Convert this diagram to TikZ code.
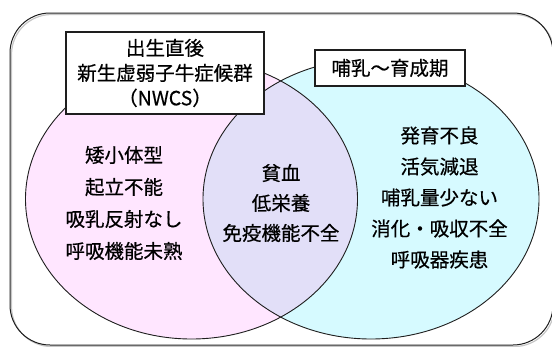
\documentclass[tikz,border=0pt]{standalone}
\usepackage{fontspec}
\setmainfont{Noto Sans CJK JP}[FakeBold=0.5]
\definecolor{pinkfill}{RGB}{255, 230, 255}
\definecolor{cyanfill}{RGB}{214, 250, 255}
\definecolor{lavender}{RGB}{226, 223, 248}
\definecolor{edge}{RGB}{30, 30, 30}

\begin{document}
\begin{tikzpicture}[x=1pt,y=-1pt,
        textgroup/.style={align=center, font=\fontsize{19.5}{31}\selectfont},
        labelbox/.style={draw=edge, line width=1.2pt, fill=white, align=center, inner sep=0pt,
          font=\fontsize{19.5}{25}\selectfont}]
        \useasboundingbox (0,0) rectangle (552,346);
        %\draw[gray!40, line width=1.5pt, rounded corners=40pt] (12,15) rectangle (555,347);
        \draw[gray!45, line width=1.2pt, rounded corners=40pt] (11.5,14.5) rectangle (554.5,346.5);
        \draw[edge, line width=1pt, rounded corners=40pt] (10,13) rectangle (553,345);

        \coordinate (early) at (191.5,199);
        \coordinate (later) at (371,199);
        \fill [pinkfill] (early) ellipse [x radius=166pt, y radius=140pt];
        \fill [cyanfill] (later) ellipse [x radius=168pt, y radius=140pt];
        \begin{scope}
          \clip (early) ellipse [x radius=166pt, y radius=140pt];
          \fill [lavender] (later) ellipse [x radius=168pt, y radius=140pt];
        \end{scope}
        \draw [edge, line width=0.9pt] (early) ellipse [x radius=166pt, y radius=140pt];
        \draw [edge, line width=0.9pt] (later) ellipse [x radius=168pt, y radius=140pt];

        \node[labelbox, minimum width=198pt, minimum height=82pt] (nwcs) at (165,73)
        {出生直後\\新生虚弱子牛症候群\\（NWCS）};
        \node[labelbox, minimum width=150pt, minimum height=36pt] (rearing) at (390,68)
        {哺乳〜育成期};

        \node[textgroup, font=\fontsize{19.5}{32}\selectfont] (newborn) at (124,203)
        {矮小体型\\起立不能\\吸乳反射なし\\呼吸機能未熟};
        \node[textgroup, font=\fontsize{19.5}{30}\selectfont] (common) at (281,203)
        {貧血\\低栄養\\免疫機能不全};
        \node[textgroup] (growth) at (439.5,197.5)
        {発育不良\\活気減退\\哺乳量少ない\\消化・吸収不全\\呼吸器疾患};
\end{tikzpicture}
\end{document}
